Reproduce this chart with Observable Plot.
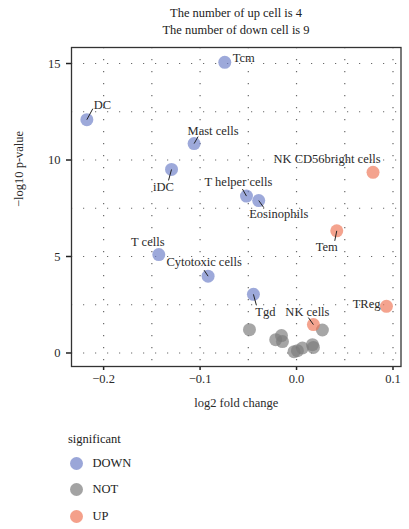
<!DOCTYPE html>
<html>
<head>
<meta charset="utf-8">
<script src="https://cdn.jsdelivr.net/npm/d3@7"></script>
<script src="https://cdn.jsdelivr.net/npm/@observablehq/plot@0.6"></script>
<style>
  body { margin: 0; background: #fff; font-family: "Liberation Serif", "DejaVu Serif", serif; color: #222; }
  #wrap { position: relative; width: 409px; height: 529px; }
  #title { position: absolute; left: 71px; width: 330px; top: 5px; text-align: center; font-size: 12.5px; line-height: 17px; color: #222; }
  #legend { position: absolute; left: 68px; top: 430px; font-size: 12.5px; color: #222; }
  #legend .head { height: 18px; line-height: 18px; margin-bottom: 2px; }
  #legend .row { height: 26.5px; display: flex; align-items: center; }
  #legend .sw { width: 13px; height: 13px; border-radius: 50%; margin-left: 1.5px; margin-right: 10px; opacity: 0.7; }
  #chart { position: absolute; left: 0; top: 0; }
</style>
</head>
<body>
<div id="wrap">
  <div id="chart"></div>
  <div id="title"></div>
  <div id="legend"></div>
</div>
<script>
// Significant cell types (labelled)
const cellNames = ["Tcm", "DC", "Mast cells", "iDC", "T helper cells", "Eosinophils", "T cells",
  "Cytotoxic cells", "Tgd", "NK CD56bright cells", "Tem", "TReg", "NK cells"];
const cellFc = [-0.0744, -0.2174, -0.1062, -0.1296, -0.0519, -0.0392, -0.1428,
  -0.0917, -0.0447, 0.0793, 0.0417, 0.0932, 0.0175];
const cellP = [15.06, 12.09, 10.85, 9.51, 8.13, 7.90, 5.10,
  3.98, 3.04, 9.36, 6.33, 2.42, 1.47];
const cellGroup = ["DOWN", "DOWN", "DOWN", "DOWN", "DOWN", "DOWN", "DOWN",
  "DOWN", "DOWN", "UP", "UP", "UP", "UP"];

// Non-significant cell types (unlabelled)
const notFc = [-0.0488, -0.0216, -0.0156, -0.0146, -0.0026, 0.0009, 0.0061, 0.0165, 0.0175, 0.0268];
const notP = [1.21, 0.69, 0.90, 0.59, 0.07, 0.12, 0.26, 0.43, 0.29, 1.19];

const groupNames = ["DOWN", "NOT", "UP"];
const groupColors = ["#6F80C8", "#7C7C7C", "#EF7758"];

const xTicks = [-0.2, -0.1, 0, 0.1];
const yTicks = [0, 5, 10, 15];
const xGrid = [-0.2, -0.15, -0.1, -0.05, 0, 0.05, 0.1];
const yGrid = [0, 2.5, 5, 7.5, 10, 12.5, 15];

const titleLines = ["The number of up cell is 4", "The number of down cell is 9"];

// Label placement (pixel offsets from each point: text dx, dy, anchor, segment end ex, ey)
const labelLayout = {
  "Tcm": [8, -4, "start", null],
  "DC": [7, -15, "start", [6, -11]],
  "Mast cells": [19, -13, "middle", [4, -7]],
  "iDC": [-8, 18, "middle", [-3, 11]],
  "T helper cells": [-8, -14, "middle", [-4, -7]],
  "Eosinophils": [20, 13, "middle", [5, 7]],
  "T cells": [-11, -13, "middle", null],
  "Cytotoxic cells": [-4, -14, "middle", [-4, -6]],
  "Tgd": [12, 18, "middle", [3, 11]],
  "NK CD56bright cells": [-46, -13, "middle", null],
  "Tem": [-10, 16, "middle", [-2, 10]],
  "TReg": [-6, -2, "end", null],
  "NK cells": [-6, -13, "middle", [-5, -7]]
};

const W = 409, H = 420;
const margin = {top: 47, right: 8.5, bottom: 54, left: 71};
const xDomain = [-0.2333, 0.1083];
const yDomain = [-0.70, 15.83];

const sig = cellNames.map((name, i) => ({name, fc: cellFc[i], p: cellP[i], group: cellGroup[i]}));
const notSig = notFc.map((fc, i) => ({fc, p: notP[i], group: "NOT"}));
const allPoints = notSig.concat(sig);

// Same scales as the chart, used to place leader-line ends in pixel space
const xs = Plot.scale({x: {domain: xDomain, range: [margin.left, W - margin.right]}});
const ys = Plot.scale({y: {domain: yDomain, range: [H - margin.bottom, margin.top]}});

const segments = sig.filter(d => labelLayout[d.name][3]).map(d => {
  const [ex, ey] = labelLayout[d.name][3];
  return {
    x1: d.fc, y1: d.p,
    x2: xs.invert(xs.apply(d.fc) + ex),
    y2: ys.invert(ys.apply(d.p) + ey)
  };
});

const labelMarks = sig.map(d => {
  const [dx, dy, anchor] = labelLayout[d.name];
  return Plot.text([d], {
    x: "fc", y: "p", text: "name", dx, dy, textAnchor: anchor,
    fill: "#2a2a2a", fontSize: 12.5, lineAnchor: "middle"
  });
});

const gridStyle = {stroke: "#6a6a6a", strokeOpacity: 1, strokeWidth: 1.2, strokeDasharray: "1.2,10.8"};

const chart = Plot.plot({
  width: W,
  height: H,
  marginTop: margin.top,
  marginRight: margin.right,
  marginBottom: margin.bottom,
  marginLeft: margin.left,
  style: {fontFamily: "Liberation Serif, DejaVu Serif, serif", fontSize: "12px", color: "#2a2a2a", background: "#fff"},
  x: {domain: xDomain},
  y: {domain: yDomain},
  color: {domain: groupNames, range: groupColors},
  marks: [
    Plot.gridX(xGrid, gridStyle),
    Plot.gridY(yGrid, gridStyle),
    Plot.axisX(xTicks, {tickSize: 4, tickPadding: 4, tickFormat: d3.format(".1f"), label: null, strokeWidth: 1.5, stroke: "#222", fontSize: 12.5}),
    Plot.axisY(yTicks, {tickSize: 5, tickPadding: 6, label: null, strokeWidth: 1.5, stroke: "#222", fontSize: 12.5}),
    Plot.frame({stroke: "#333", strokeWidth: 1.3}),
    Plot.dot(allPoints, {x: "fc", y: "p", r: 6.5, fill: "group", fillOpacity: 0.68, stroke: "none"}),
    Plot.link(segments, {x1: "x1", y1: "y1", x2: "x2", y2: "y2", stroke: "#222", strokeWidth: 1}),
    ...labelMarks,
    Plot.text(["log2 fold change"], {frameAnchor: "bottom", dy: 40, text: d => d, fontSize: 12.5, fill: "#2a2a2a"}),
    Plot.text(["\u2212log10 p-value"], {frameAnchor: "left", dx: -53, rotate: -90, text: d => d, fontSize: 12.5, fill: "#2a2a2a"})
  ]
});
document.getElementById("chart").appendChild(chart);

document.getElementById("title").innerHTML = titleLines.map(t => `<div>${t}</div>`).join("");

const legend = document.getElementById("legend");
legend.innerHTML = `<div class="head">significant</div>` +
  groupNames.map((g, i) => `<div class="row"><span class="sw" style="background:${groupColors[i]}"></span><span>${g}</span></div>`).join("");
</script>
</body>
</html>
